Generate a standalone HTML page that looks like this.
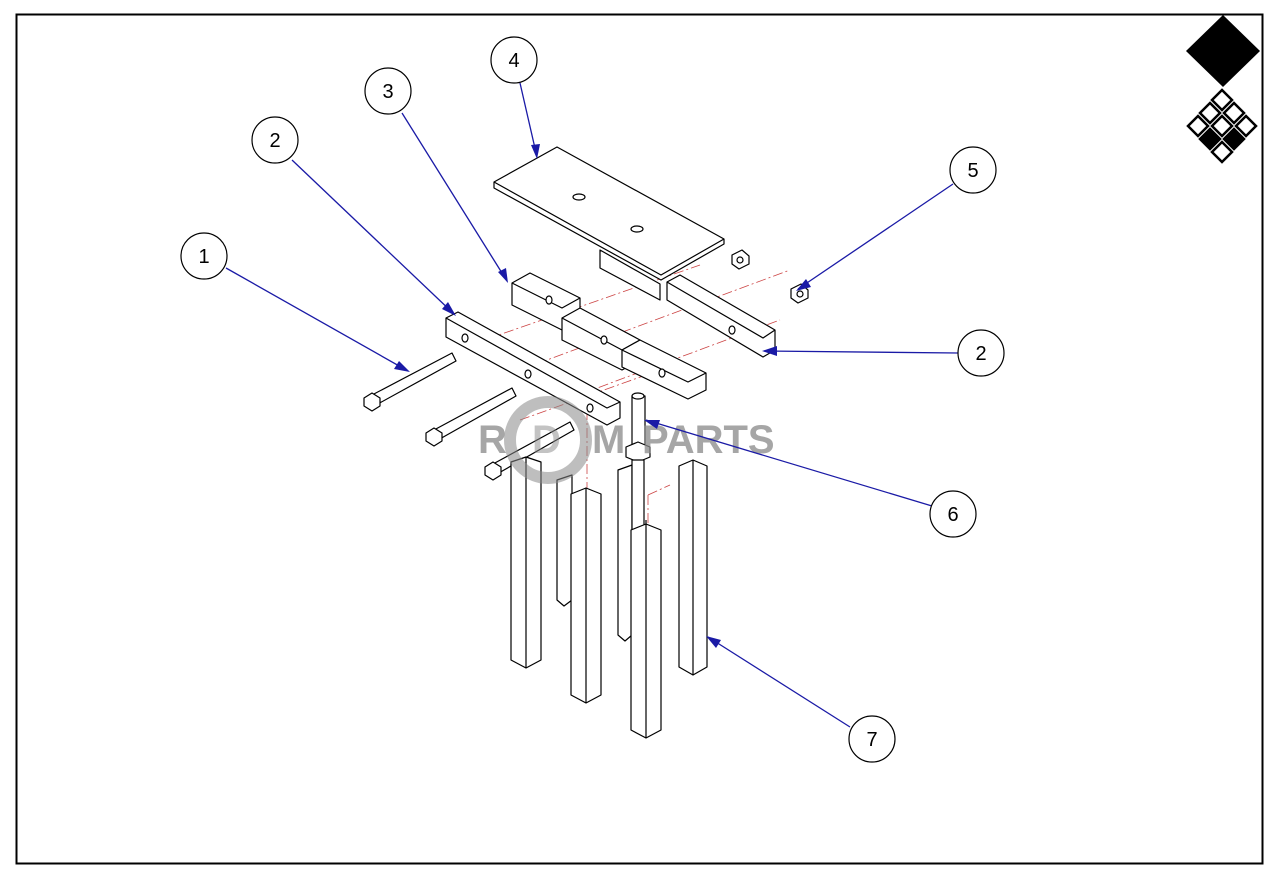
<!DOCTYPE html>
<html><head><meta charset="utf-8"><style>
html,body{margin:0;padding:0;background:#fff;}
svg{display:block;font-family:"Liberation Sans",sans-serif;}
</style></head><body>
<svg width="1280" height="877" viewBox="0 0 1280 877" xmlns="http://www.w3.org/2000/svg">
<rect x="0" y="0" width="1280" height="877" fill="#fff"/>
<rect x="16.5" y="14.5" width="1246" height="849" fill="none" stroke="#000" stroke-width="2"/>
<polygon points="1223,15 1260,51 1223,87 1186,51" fill="#000"/>
<g stroke="#000" stroke-width="2.5" fill="#fff">
<polygon points="1222,90 1232,100 1222,110 1212,100"/>
<polygon points="1210,103 1220,113 1210,123 1200,113"/>
<polygon points="1234,103 1244,113 1234,123 1224,113"/>
<polygon points="1198,116 1208,126 1198,136 1188,126"/>
<polygon points="1222,116 1232,126 1222,136 1212,126"/>
<polygon points="1246,116 1256,126 1246,136 1236,126"/>
<polygon points="1210,129 1220,139 1210,149 1200,139" fill="#000"/>
<polygon points="1234,129 1244,139 1234,149 1224,139" fill="#000"/>
<polygon points="1222,142 1232,152 1222,162 1212,152"/>
</g>
<g stroke="#c44" stroke-width="0.8" stroke-dasharray="10,3,2,3" fill="none">
<line x1="470" y1="345" x2="700" y2="265"/>
<line x1="520" y1="370" x2="790" y2="270"/>
<line x1="565" y1="400" x2="780" y2="320"/>
<line x1="520" y1="420" x2="660" y2="370"/>
<line x1="648" y1="495" x2="670" y2="485"/>
<line x1="648" y1="495" x2="648" y2="525"/>
<line x1="587" y1="410" x2="587" y2="490"/>
</g>
<g stroke="#000" stroke-width="1.2" fill="#fff" stroke-linejoin="round">
<polygon points="667,282 680,275 775,330 775,350 763,357 667,300"/>
<polyline points="667,282 763,338 775,330 M763,338 763,357" fill="none"/>
<ellipse cx="732" cy="330" rx="3" ry="4"/>
<polygon points="600,250 660,284 660,300 600,268"/>
<polygon points="494,182 557,147 724,239 724,244 661,280 494,188"/>
<polyline points="494,182 661,275 724,239 M661,275 661,280" fill="none"/>
<ellipse cx="579" cy="197" rx="6" ry="3"/>
<ellipse cx="637" cy="229" rx="6" ry="3"/>
<polygon points="732,255 742,250 749,256 749,264 739,269 732,264"/>
<circle cx="740" cy="260" r="3"/>
<polygon points="791,289 801,284 808,290 808,298 798,303 791,298"/>
<circle cx="800" cy="294" r="3"/>
<polygon points="512,283 530,273 580,298 580,320 562,330 512,305"/>
<polyline points="512,283 562,308 580,298 M562,308 562,330" fill="none"/>
<ellipse cx="549" cy="300" rx="3" ry="4"/>
<polygon points="562,318 580,308 640,340 640,360 622,370 562,340"/>
<polyline points="562,318 622,350 640,340 M622,350 622,370" fill="none"/>
<ellipse cx="604" cy="340" rx="3" ry="4"/>
<polygon points="622,350 640,340 706,373 706,390 688,399 622,367"/>
<polyline points="622,350 688,382 706,373 M688,382 688,399" fill="none"/>
<ellipse cx="662" cy="373" rx="3" ry="4"/>
<polygon points="557,480 572,475 572,600 564,606 557,600"/>
<polygon points="618,470 632,465 632,635 625,641 618,635"/>
<polygon points="446,318 458,312 620,402 620,418 607,425 446,337"/>
<polyline points="446,318 607,408 620,402 M607,408 607,425" fill="none"/>
<ellipse cx="465" cy="338" rx="3" ry="4"/>
<ellipse cx="528" cy="374" rx="3" ry="4"/>
<ellipse cx="590" cy="408" rx="3" ry="4"/>
<polygon points="372,395 452,353 456,361 376,405"/>
<polygon points="364,398 372,393 380,398 380,406 372,411 364,406"/>
<polygon points="434,430 512,388 516,396 438,440"/>
<polygon points="426,433 434,428 442,433 442,441 434,446 426,441"/>
<polygon points="493,464 570,422 574,430 497,474"/>
<polygon points="485,467 493,462 501,467 501,475 493,480 485,475"/>
<rect x="632" y="396" width="13" height="50"/>
<ellipse cx="638" cy="396" rx="6" ry="3"/>
<polygon points="626,447 638,442 650,447 650,457 638,462 626,457"/>
<rect x="632" y="460" width="12" height="70"/>
<polygon points="511,462 526,457 541,462 541,660 526,668 511,660"/>
<line x1="526" y1="457" x2="526" y2="668"/>
<polygon points="571,494 586,488 601,494 601,695 586,703 571,695"/>
<line x1="586" y1="488" x2="586" y2="703"/>
<polygon points="631,530 646,524 661,530 661,730 646,738 631,730"/>
<line x1="646" y1="520" x2="646" y2="738"/>
<polygon points="679,466 693,460 707,466 707,667 693,675 679,667"/>
<line x1="693" y1="460" x2="693" y2="675"/>
</g>
<text x="478" y="453" font-size="40" font-weight="bold" fill="#888" fill-opacity="0.75">R</text>
<circle cx="548" cy="440" r="38" fill="none" stroke="#888" stroke-opacity="0.55" stroke-width="12"/>
<text x="532" y="453" font-size="40" font-weight="bold" fill="#888" fill-opacity="0.5">D</text>
<text x="592" y="453" font-size="40" font-weight="bold" fill="#888" fill-opacity="0.75">M</text>
<text x="642" y="453" font-size="40" font-weight="bold" fill="#888" fill-opacity="0.75">PARTS</text>
<g stroke="#1a1aa6" stroke-width="1.3" fill="none">
<line x1="226" y1="268" x2="408" y2="371"/>
<line x1="292" y1="160" x2="454" y2="314"/>
<line x1="402" y1="113" x2="507" y2="281"/>
<line x1="520" y1="83" x2="537" y2="157"/>
<line x1="953" y1="184" x2="798" y2="289"/>
<line x1="958" y1="353" x2="764" y2="351"/>
<line x1="932" y1="506" x2="646" y2="420"/>
<line x1="850" y1="727" x2="708" y2="637"/>
</g>
<g fill="#1a1aa6">
<polygon points="410,372 394,369 399,361"/>
<polygon points="456,316 442,309 448,302"/>
<polygon points="508,283 498,272 506,268"/>
<polygon points="537,159 531,145 540,144"/>
<polygon points="796,291 806,279 811,287"/>
<polygon points="762,351 777,346 777,356"/>
<polygon points="644,420 660,420 657,429"/>
<polygon points="706,636 721,640 716,648"/>
</g>
<g stroke="#000" stroke-width="1.2" fill="#fff">
<circle cx="204" cy="256" r="23"/><circle cx="275" cy="140" r="23"/>
<circle cx="388" cy="91" r="23"/><circle cx="514" cy="60" r="23"/>
<circle cx="973" cy="170" r="23"/><circle cx="981" cy="353" r="23"/>
<circle cx="953" cy="514" r="23"/><circle cx="872" cy="739" r="23"/>
</g>
<g font-size="20" text-anchor="middle" fill="#000">
<text x="204" y="263">1</text><text x="275" y="147">2</text>
<text x="388" y="98">3</text><text x="514" y="67">4</text>
<text x="973" y="177">5</text><text x="981" y="360">2</text>
<text x="953" y="521">6</text><text x="872" y="746">7</text>
</g>
</svg>
</body></html>
